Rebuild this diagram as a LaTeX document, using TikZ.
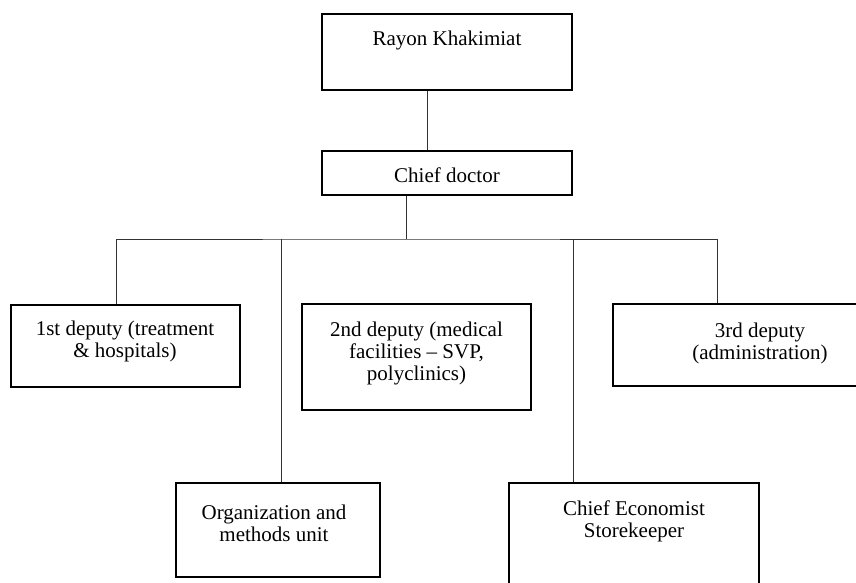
\documentclass[tikz,border=0pt]{standalone}
\usepackage{fontspec}
\setmainfont{Liberation Serif}
\begin{document}
\begin{tikzpicture}[x=1pt,y=-1pt,
  box/.style={draw=black,line width=1.2pt,inner sep=0pt,rectangle},
  lbl/.style={align=center,inner sep=0pt,font=\fontsize{21}{22}\selectfont,text=black},
  conn/.style={draw=black!80,line width=0.8pt}]
\useasboundingbox (0,0) rectangle (856,583);
\clip (0,0) rectangle (856,583);
% boxes
\node[box,minimum width=250pt,minimum height=76pt] (rk) at (447,52) {};
\node[box,minimum width=250pt,minimum height=44pt] (cd) at (447,173) {};
\node[box,minimum width=229pt,minimum height=82pt] (d1) at (125.5,346) {};
\node[box,minimum width=229pt,minimum height=106pt] (d2) at (416.5,357) {};
\node[box,minimum width=287pt,minimum height=82pt] (d3) at (756.5,345) {};
\node[box,minimum width=204pt,minimum height=94pt] (org) at (278,530) {};
\node[box,minimum width=250pt,minimum height=137pt] (econ) at (634,551.5) {};
% texts
\node[lbl] (trk) at (447,40) {Rayon Khakimiat};
\node[lbl] (tcd) at (447,175) {Chief doctor};
\node[lbl] (td1) at (125,341) {1st deputy (treatment\\ \& hospitals)};
\node[lbl] (td2) at (416.5,353) {2nd deputy (medical\\ facilities -- SVP,\\ polyclinics)};
\node[lbl] (td3) at (760,343) {3rd deputy\\ (administration)};
\node[lbl] (torg) at (274,523) {Organization and\\ methods unit};
\node[lbl] (tecon) at (634,521) {Chief Economist\\ Storekeeper};
% connectors
\coordinate (bar) at (406,239);
\draw[conn] ([xshift=-20pt]rk.south) -- ([xshift=-20pt]cd.north);
\draw[conn] ([xshift=-41pt]cd.south) -- (bar);
\draw[conn] ([xshift=-9.5pt]d1.north) |- (bar) -| ([xshift=-39.5pt]d3.north);
\draw[conn] ([xshift=3pt]org.north) -- ([xshift=3pt]org.north |- bar);
\draw[conn] ([xshift=-61pt]econ.north) -- ([xshift=-61pt]econ.north |- bar);
\end{tikzpicture}
\end{document}
